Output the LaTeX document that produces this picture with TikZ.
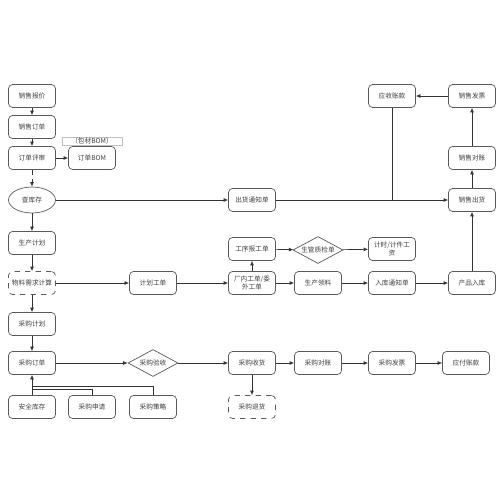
\documentclass[tikz,border=0pt]{standalone}
\usepackage{fontspec}
\newfontfamily\cjk{Noto Sans CJK SC}
\usetikzlibrary{arrows.meta, positioning, shapes.geometric}

\begin{document}
\begin{tikzpicture}[x=0.02cm, y=-0.02cm,
    every node/.style={font=\cjk\fontsize{3.8}{4.8}\selectfont, text=black!75, align=center},
    box/.style={rectangle, rounded corners=0.8mm, draw=black!65, line width=0.4pt,
        minimum width=0.94cm, minimum height=0.46cm, inner sep=0.5pt},
    dbox/.style={box, dashed},
    dia/.style={diamond, aspect=2, draw=black!65, line width=0.4pt, inner sep=0pt,
        minimum width=1.0cm, minimum height=0.54cm},
    oval/.style={ellipse, draw=black!65, line width=0.4pt, inner sep=0pt,
        minimum width=0.94cm, minimum height=0.52cm},
    tag/.style={rectangle, draw=black!25, line width=0.3pt, minimum width=1.2cm,
        minimum height=0.16cm, inner sep=0pt},
    flow/.style={-{Latex[length=0.9mm, width=0.8mm]}, draw=black!80, line width=0.4pt},
    link/.style={draw=black!80, line width=0.4pt}]
    \fill[white] (0,0) rectangle (500,500);
    \useasboundingbox (0,0) rectangle (500,500);

    % sales
    \node[box] (xsbj) at (32,96) {销售报价};
    \node[box] (xsdd) at (32,127) {销售订单};
    \node[box] (ddps) at (32,158) {订单评审};
    \node[box] (ddbom) at (92,158) {订单BOM};
    \node[tag] (bcbom) at (92,141) {（包材BOM）};
    \node[oval] (ckc) at (32,200) {查库存};
    \node[box] (chtz) at (252,200) {出货通知单};
    \node[box] (xsch) at (472,200) {销售出货};
    \node[box] (xsdz) at (472,158) {销售对账};
    \node[box] (xsfp) at (472,96) {销售发票};
    \node[box] (yszk) at (392,96) {应收账款};

    % production
    \node[box] (scjh) at (32,243) {生产计划};
    \node[dbox] (wlxq) at (32,283) {物料需求计算};
    \node[box] (jhgd) at (153,283) {计划工单};
    \node[box] (cngd) at (252,283) {厂内工单/委\\外工单};
    \node[box] (scll) at (318,283) {生产领料};
    \node[box] (rktz) at (392,283) {入库通知单};
    \node[box] (cprk) at (472,283) {产品入库};
    \node[box] (gxbg) at (252,249) {工序报工单};
    \node[dia] (sgzj) at (318,250) {生管质检单};
    \node[box] (jsgz) at (392,249) {计时/计件工\\资};

    % purchase
    \node[box] (cgjh) at (32,324) {采购计划};
    \node[box] (cgdd) at (32,363) {采购订单};
    \node[dia] (cgys) at (153,363) {采购验收};
    \node[box] (cgsh) at (252,363) {采购收货};
    \node[box] (cgdz) at (318,363) {采购对账};
    \node[box] (cgfp) at (392,363) {采购发票};
    \node[box] (yfzk) at (466,363) {应付账款};
    \node[dbox] (cgth) at (252,407) {采购退货};
    \node[box] (aqkc) at (32,407) {安全库存};
    \node[box] (cgsq) at (92,407) {采购申请};
    \node[box] (cgcl) at (153,407) {采购策略};
    \coordinate (j1) at (32,389);
    \coordinate (j2) at (32,386);

    \draw[flow] (xsbj) -- (xsdd);
    \draw[flow] (xsdd) -- (ddps);
    \draw[flow] (ddps) -- (ddbom);
    \draw[flow, densely dashed] (ddps) -- (ckc);
    \draw[flow] (ckc) -- (chtz);
    \draw[flow] (chtz) -- (xsch);
    \draw[link] (yszk.south) -- (yszk.south |- chtz.east);
    \draw[flow] (xsch) -- (xsdz);
    \draw[flow] (xsdz) -- (xsfp);
    \draw[flow] (xsfp) -- (yszk);
    \draw[flow] (ckc) -- (scjh);
    \draw[flow] (scjh) -- (wlxq);
    \draw[flow] (wlxq) -- (jhgd);
    \draw[flow] (jhgd) -- (cngd);
    \draw[flow] (cngd) -- (scll);
    \draw[flow] (scll) -- (rktz);
    \draw[flow] (rktz) -- (cprk);
    \draw[flow] (cprk) -- (xsch);
    \draw[flow] (cngd) -- (gxbg);
    \draw[flow] (gxbg) -- (sgzj);
    \draw[flow] (sgzj) -- (jsgz);
    \draw[flow] (wlxq) -- (cgjh);
    \draw[flow] (cgjh) -- (cgdd);
    \draw[flow] (cgdd) -- (cgys);
    \draw[flow] (cgys) -- (cgsh);
    \draw[flow] (cgsh) -- (cgdz);
    \draw[flow] (cgdz) -- (cgfp);
    \draw[flow] (cgfp) -- (yfzk);
    \draw[flow] (cgsh) -- (cgth);
    \draw[flow] (aqkc) -- (cgdd);
    \draw[link] (cgsq.north) |- (j1);
    \draw[link] (cgcl.north) |- (j2);
\end{tikzpicture}
\end{document}
